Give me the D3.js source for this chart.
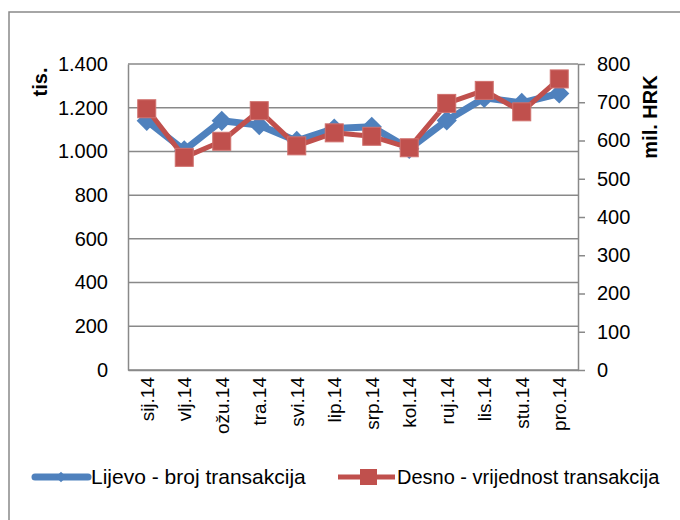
<!DOCTYPE html>
<html>

<head>
  <meta charset="utf-8">
  <title>Transakcije 2014</title>
  <style>
    body { margin: 0; background: #fff; }
    text { font-family: "Liberation Sans", Arial, sans-serif; fill: #000; }
  </style>
</head>

<body>
  <svg width="680" height="520"></svg>
  <script src="https://d3js.org/d3.v7.min.js"></script>
  <script>
    // data
    var months = ["sij.14", "vlj.14", "ožu.14", "tra.14", "svi.14", "lip.14",
      "srp.14", "kol.14", "ruj.14", "lis.14", "stu.14", "pro.14"];
    var brojTransakcija = [1140, 1005, 1140, 1120, 1048, 1105, 1113, 1012, 1142, 1245, 1222, 1265];
    var vrijednostTransakcija = [683, 556, 598, 678, 586, 620, 611, 581, 697, 731, 675, 761];
    var leftTicks = [0, 200, 400, 600, 800, 1000, 1200, 1400];
    var rightTicks = [0, 100, 200, 300, 400, 500, 600, 700, 800];

    var blue = "#4f81bd", red = "#c0504d", gridColor = "#898989";
    var svg = d3.select("svg");
    var fmt = function (d) { return d3.format(",")(d).replace(/,/g, "."); };

    // outer frame (continues beyond the right and bottom edges)
    svg.append("rect")
      .attr("x", 9).attr("y", 12)
      .attr("width", 700).attr("height", 540)
      .attr("fill", "none").attr("stroke", gridColor).attr("stroke-width", 1.5);

    var plotL = 128, plotR = 578, plotT = 64, plotB = 370;

    var x = d3.scaleBand().domain(months).range([plotL, plotR]);
    var yL = d3.scaleLinear().domain([0, 1400]).range([plotB, plotT]);
    var yR = d3.scaleLinear().domain([0, 800]).range([plotB, plotT]);

    // gridlines
    svg.append("g").selectAll("line")
      .data(leftTicks)
      .enter()
      .append("line")
      .attr("x1", plotL).attr("x2", plotR)
      .attr("y1", function (d) { return yL(d); })
      .attr("y2", function (d) { return yL(d); })
      .attr("stroke", gridColor).attr("stroke-width", 1.5);

    // left axis
    var gL = svg.append("g").attr("transform", "translate(" + plotL + ",0)")
      .call(d3.axisLeft(yL).tickValues(leftTicks).tickFormat(fmt).tickSize(0).tickPadding(20));
    gL.select(".domain").attr("stroke", gridColor).attr("stroke-width", 1.5);
    gL.selectAll("text").style("font-size", "20px").attr("font-family", null);

    // right axis
    var gR = svg.append("g").attr("transform", "translate(" + plotR + ",0)")
      .call(d3.axisRight(yR).tickValues(rightTicks).tickSizeInner(7).tickSizeOuter(0).tickPadding(12));
    gR.select(".domain").attr("stroke", gridColor).attr("stroke-width", 1.5);
    gR.selectAll(".tick line").attr("stroke", gridColor).attr("stroke-width", 1.5);
    gR.selectAll("text").style("font-size", "20px").attr("font-family", null);

    // bottom axis
    var gX = svg.append("g").attr("transform", "translate(0," + plotB + ")")
      .call(d3.axisBottom(x).tickSize(0).tickPadding(0));
    gX.select(".domain").attr("stroke", gridColor).attr("stroke-width", 1.5);
    gX.selectAll("text")
      .style("font-size", "19px").attr("font-family", null)
      .attr("text-anchor", "end")
      .attr("transform", "translate(7,7) rotate(-90)")
      .attr("y", 0).attr("dy", 0).attr("x", 0);

    // axis titles
    svg.append("text")
      .attr("transform", "translate(47,82) rotate(-90)")
      .attr("text-anchor", "middle")
      .style("font-size", "20px").style("font-weight", "bold")
      .text("tis.");
    svg.append("text")
      .attr("transform", "translate(657,117) rotate(-90)")
      .attr("text-anchor", "middle")
      .style("font-size", "20px").style("font-weight", "bold")
      .text("mil. HRK");

    var cx = function (d, i) { return x(months[i]) + x.bandwidth() / 2; };

    // blue series
    var lineL = d3.line().x(cx).y(function (d) { return yL(d); });
    svg.append("path").datum(brojTransakcija)
      .attr("d", lineL).attr("fill", "none")
      .attr("stroke", blue).attr("stroke-width", 7).attr("stroke-linejoin", "round");
    svg.append("g").selectAll("path")
      .data(brojTransakcija)
      .enter()
      .append("path")
      .attr("d", d3.symbol().type(d3.symbolDiamond2).size(260))
      .attr("transform", function (d, i) { return "translate(" + cx(d, i) + "," + yL(d) + ")"; })
      .attr("fill", blue);

    // red series
    var lineR = d3.line().x(cx).y(function (d) { return yR(d); });
    svg.append("path").datum(vrijednostTransakcija)
      .attr("d", lineR).attr("fill", "none")
      .attr("stroke", red).attr("stroke-width", 5).attr("stroke-linejoin", "round");
    svg.append("g").selectAll("rect")
      .data(vrijednostTransakcija)
      .enter()
      .append("rect")
      .attr("x", function (d, i) { return cx(d, i) - 9; })
      .attr("y", function (d) { return yR(d) - 9; })
      .attr("width", 18).attr("height", 18)
      .attr("fill", red).attr("stroke", "#d0706d").attr("stroke-width", 1);

    // legend
    var lg = svg.append("g");
    lg.append("line").attr("x1", 35).attr("x2", 88).attr("y1", 477).attr("y2", 477)
      .attr("stroke", blue).attr("stroke-width", 7).attr("stroke-linecap", "round");
    lg.append("path").attr("d", d3.symbol().type(d3.symbolDiamond2).size(70))
      .attr("transform", "translate(61,477)").attr("fill", blue);
    lg.append("text").attr("x", 91).attr("y", 484).style("font-size", "21px")
      .text("Lijevo - broj transakcija");
    lg.append("line").attr("x1", 338).attr("x2", 395).attr("y1", 477).attr("y2", 477)
      .attr("stroke", red).attr("stroke-width", 5);
    lg.append("rect").attr("x", 360).attr("y", 469).attr("width", 17).attr("height", 16)
      .attr("fill", red);
    lg.append("text").attr("x", 397).attr("y", 484).style("font-size", "20px")
      .text("Desno - vrijednost transakcija");
  </script>
</body>

</html>
